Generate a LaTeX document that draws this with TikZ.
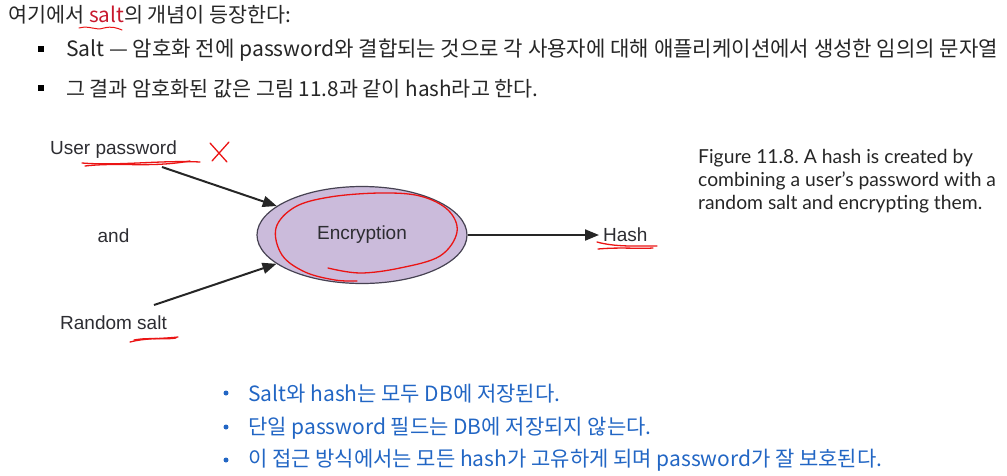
\documentclass[tikz,border=0pt]{standalone}
\usepackage{fontspec}
\setmainfont{Liberation Sans}
\newfontfamily\krfont{Noto Sans CJK KR}
\newfontfamily\latofont{Lato}
\usetikzlibrary{shapes.geometric, arrows.meta, positioning}
\definecolor{slidetext}{RGB}{38,38,38}
\definecolor{saltred}{RGB}{200,25,45}
\definecolor{penred}{RGB}{235,20,20}
\definecolor{noteblue}{RGB}{34,102,196}
\definecolor{encfill}{RGB}{203,187,219}
\definecolor{encdraw}{RGB}{70,66,82}
\definecolor{figtext}{RGB}{45,45,50}
\frenchspacing

\begin{document}
\begin{tikzpicture}[x=1pt, y=-1pt,
  krline/.style={anchor=west, inner sep=0pt, font=\krfont\fontsize{20.7}{24}\selectfont, text=slidetext},
  noteline/.style={krline, text=noteblue, font=\krfont\fontsize{21}{24}\selectfont},
  sqbullet/.style={rectangle, fill=black, minimum size=6pt, inner sep=0pt},
  dotbullet/.style={circle, fill=noteblue, minimum size=5pt, inner sep=0pt},
  label/.style={inner sep=0pt, font=\fontsize{19}{23}\selectfont, text=figtext},
  enc/.style={ellipse, draw=encdraw, line width=1.2pt, fill=encfill,
    minimum width=210pt, minimum height=97pt, font=\fontsize{19}{23}\selectfont, text=figtext},
  arrow/.style={-{Triangle[length=14pt, width=11pt]}, line width=2pt, draw=black!85},
  pen/.style={draw=penred, line width=1.3pt, line cap=round, line join=round}
]
\useasboundingbox (0,0) rectangle (1007,475);

% slide text
\node[krline] (intro) at (8,15) {여기에서 \textcolor{saltred}{salt}의 개념이 등장한다:};
\node[sqbullet] (b1) at (41,49) {};
\node[krline, font=\krfont\fontsize{21.1}{24}\selectfont] (line1) at (66,50) {Salt — 암호화 전에 password와 결합되는 것으로 각 사용자에 대해 애플리케이션에서 생성한 임의의 문자열};
\node[sqbullet] (b2) at (41,88) {};
\node[krline] (line2) at (66,89) {그 결과 암호화된 값은 그림 11.8과 같이 hash라고 한다.};

% diagram
\node[enc] (enc) at (362,235) {Encryption};
\node[label] (pwd) at (113.5,150) {User password};
\node[label] (andtxt) at (113.5,236) {and};
\node[label] (salt) at (113.5,323) {Random salt};
\node[label, anchor=west] (hash) at (603,235) {Hash};
\coordinate (pwdtail) at (162,167);
\coordinate (salttail) at (154,305);

\draw[arrow] (pwdtail) -- (enc);
\draw[arrow] (salttail) -- (enc);
\draw[arrow] (enc.east) -- ([xshift=-4pt]hash.west);

% caption
\node[anchor=north west, inner sep=0pt, align=left, text=slidetext,
  font=\latofont\fontsize{19.3}{23}\selectfont] (caption) at (698,149)
  {Figure 11.8. A hash is created by\\combining a user’s password with a\\random salt and encrypting them.};

% notes
\node[dotbullet] (d1) at (226,393) {};
\node[noteline] (note1) at (248,394) {Salt와 hash는 모두 DB에 저장된다.};
\node[dotbullet] (d2) at (226,427) {};
\node[noteline] (note2) at (248,428) {단일 password 필드는 DB에 저장되지 않는다.};
\node[dotbullet] (d3) at (226,460) {};
\node[noteline] (note3) at (248,460) {이 접근 방식에서는 모든 hash가 고유하게 되며 password가 잘 보호된다.};

% pen marks
\draw[pen, line width=1pt] (79,28) .. controls (90,25) and (95,31) .. (104,28) .. controls (112,26) and (117,28) .. (122,30);
\draw[pen] (82,163) .. controls (120,166) and (160,160) .. (200,162);
\draw[pen] (85,166) .. controls (120,162) and (150,168) .. (190,161);
\draw[pen] (210,143) -- (227,162);
\draw[pen] (229,142) -- (212,161);
\draw[pen] (130,342) .. controls (145,338) and (160,339) .. (178,337);
\draw[pen] (134,340) .. controls (150,337) and (165,340) .. (176,338);
\draw[pen] (597,242) .. controls (615,247) and (635,246) .. (657,246);
\draw[pen] (598,249) .. controls (620,247) and (640,249) .. (653,248);
\draw[pen] plot[smooth, tension=0.6] coordinates {(328,268) (360,273) (400,268) (440,256) (457,232) (448,210) (420,196) (380,193) (330,197) (295,207) (276,228) (282,255) (305,272) (335,280) (357,281)};
\end{tikzpicture}
\end{document}
